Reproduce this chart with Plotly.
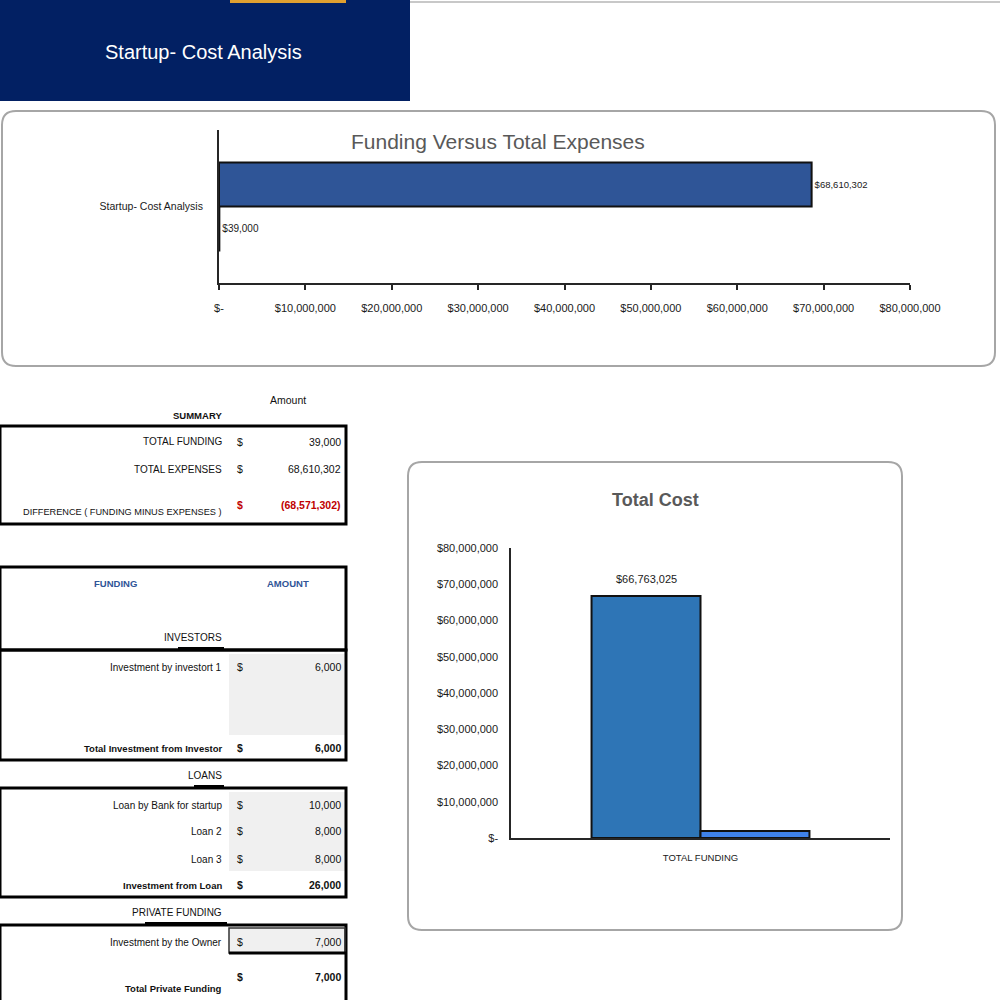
import plotly.graph_objects as go

# ---------------- data ----------------
top_categories = ["Startup- Cost Analysis"]
top_funding = [39000]
top_expenses = [68610302]
top_tick_vals = [0, 10000000, 20000000, 30000000, 40000000, 50000000, 60000000, 70000000, 80000000]
top_tick_text = ["$-", "$10,000,000", "$20,000,000", "$30,000,000", "$40,000,000",
                 "$50,000,000", "$60,000,000", "$70,000,000", "$80,000,000"]

cost_categories = ["TOTAL FUNDING"]
cost_series1 = [66763025]
cost_series2 = [1900000]
cost_tick_vals = top_tick_vals
cost_tick_text = top_tick_text

summary_labels = ["TOTAL FUNDING", "TOTAL EXPENSES", "DIFFERENCE ( FUNDING MINUS EXPENSES )"]
summary_values = ["39,000", "68,610,302", "(68,571,302)"]
investor_labels = ["Investment by investort 1", "Total Investment from Investor"]
investor_values = ["6,000", "6,000"]
loan_labels = ["Loan by Bank for startup", "Loan 2", "Loan 3", "Investment from Loan"]
loan_values = ["10,000", "8,000", "8,000", "26,000"]
private_labels = ["Investment by the Owner", "Total Private Funding"]
private_values = ["7,000", "7,000"]

FONT = "Liberation Sans Narrow, Arial Narrow, Liberation Sans, Arial"
NAVY = "#022063"


def X(p):
    return p / 1000.0


def Y(p):
    return 1 - p / 1000.0


fig = go.Figure()

# ---------------- top chart ----------------
fig.add_trace(go.Bar(
    y=top_categories, x=top_funding, orientation="h", name="Funding",
    marker=dict(color="#2F5597", line=dict(color="#111111", width=2)),
    texttemplate="$%{x:,.0f}", textposition="outside",
    textfont=dict(family=FONT, size=10, color="#1a1a1a"),
    cliponaxis=False, xaxis="x", yaxis="y"))
fig.add_trace(go.Bar(
    y=top_categories, x=top_expenses, orientation="h", name="Expenses",
    marker=dict(color="#2F5597", line=dict(color="#111111", width=2)),
    texttemplate="$%{x:,.0f}", textposition="outside",
    textfont=dict(family=FONT, size=9.5, color="#1a1a1a"),
    cliponaxis=False, xaxis="x", yaxis="y"))

# ---------------- bottom chart ----------------
fig.add_trace(go.Bar(
    x=cost_categories, y=cost_series1, name="Total Cost",
    marker=dict(color="#2E75B6", line=dict(color="#111111", width=2)),
    xaxis="x2", yaxis="y2"))
fig.add_trace(go.Bar(
    x=cost_categories, y=cost_series2, name="Funding",
    marker=dict(color="#3F82EA", line=dict(color="#111111", width=2)),
    xaxis="x2", yaxis="y2"))

shapes = []
ann = []

# data label for the Total Cost bar (placed from the data value)
ann.append(dict(text=f"${cost_series1[0]:,.0f}", x=cost_categories[0], y=cost_series1[0],
                xref="x2", yref="y2", xshift=-54, yshift=17, showarrow=False,
                xanchor="center", yanchor="middle",
                font=dict(family=FONT, size=11, color="#1a1a1a")))

# header banner
shapes.append(dict(type="rect", xref="paper", yref="paper", x0=X(0), x1=X(410), y0=Y(101), y1=Y(0),
                   fillcolor=NAVY, line=dict(width=0), layer="below"))
shapes.append(dict(type="rect", xref="paper", yref="paper", x0=X(230), x1=X(346), y0=Y(3), y1=Y(0),
                   fillcolor="#E0A030", line=dict(width=0)))
shapes.append(dict(type="line", xref="paper", yref="paper", x0=X(410), x1=X(1000), y0=Y(2), y1=Y(2),
                   line=dict(color="#C8C8C8", width=2)))
ann.append(dict(text="Startup- Cost Analysis", x=X(203), y=Y(52), xref="paper", yref="paper",
                showarrow=False, xanchor="center", yanchor="middle",
                font=dict(family=FONT, size=20, color="white")))


def rounded(x0, y0, x1, y1, r):
    a0, b0, a1, b1 = X(x0), Y(y0), X(x1), Y(y1)
    rr = r / 1000.0
    return (f"M {a0+rr},{b0} L {a1-rr},{b0} Q {a1},{b0} {a1},{b0-rr} "
            f"L {a1},{b1+rr} Q {a1},{b1} {a1-rr},{b1} L {a0+rr},{b1} "
            f"Q {a0},{b1} {a0},{b1+rr} L {a0},{b0-rr} Q {a0},{b0} {a0+rr},{b0} Z")


shapes.append(dict(type="path", xref="paper", yref="paper", path=rounded(2, 111, 995, 366, 14),
                   line=dict(color="#A6A6A6", width=2), fillcolor="white", layer="below"))
shapes.append(dict(type="path", xref="paper", yref="paper", path=rounded(408, 462, 902, 930, 14),
                   line=dict(color="#A6A6A6", width=2), fillcolor="white", layer="below"))

ann.append(dict(text="Funding Versus Total Expenses", x=X(498), y=Y(141), xref="paper", yref="paper",
                showarrow=False, xanchor="center", yanchor="middle",
                font=dict(family=FONT, size=21, color="#595959")))
ann.append(dict(text="<b>Total Cost</b>", x=X(655), y=Y(500), xref="paper", yref="paper",
                showarrow=False, xanchor="center", yanchor="middle",
                font=dict(family=FONT, size=18, color="#595959")))

# ---------------- tables ----------------
TXT = "#111111"
LBL_X = 224
DOL_X = 235
VAL_X = 343
LS = 10     # label size
VS = 10.5   # value size


def text(t, x, y, anchor="right", size=LS, color=TXT, bold=False):
    ann.append(dict(text=(f"<b>{t}</b>" if bold else t), x=X(x), y=Y(y), xref="paper", yref="paper",
                    showarrow=False, xanchor=anchor, yanchor="middle",
                    font=dict(family=FONT, size=size, color=color)))


def box(x0, y0, x1, y1, w=3, color="black", fill=None):
    shapes.append(dict(type="rect", xref="paper", yref="paper", x0=X(x0), x1=X(x1), y0=Y(y1), y1=Y(y0),
                       line=dict(color=color, width=w), fillcolor=fill if fill else "rgba(0,0,0,0)"))


def fillrect(x0, y0, x1, y1, color="#F0F0F0"):
    shapes.append(dict(type="rect", xref="paper", yref="paper", x0=X(x0), x1=X(x1), y0=Y(y1), y1=Y(y0),
                       line=dict(width=0), fillcolor=color, layer="below"))


def underline(x0, x1, y):
    shapes.append(dict(type="line", xref="paper", yref="paper", x0=X(x0), x1=X(x1), y0=Y(y), y1=Y(y),
                       line=dict(color="black", width=2)))


# summary
text("Amount", 288, 400, anchor="center", size=10.5)
text("SUMMARY", LBL_X, 415, size=9.5, bold=True)
box(0, 426, 346, 524)
sum_y = [442, 469, 505]
for i, (lab, val) in enumerate(zip(summary_labels, summary_values)):
    red = i == 2
    ly = 512 if red else sum_y[i]
    text(lab, LBL_X, ly, size=9.2 if red else LS)
    text("$", DOL_X, sum_y[i], anchor="left", size=VS, color="#C00000" if red else TXT, bold=red)
    text(val, VAL_X, sum_y[i], size=VS, color="#C00000" if red else TXT, bold=red)

# funding header
box(0, 567, 346, 650)
text("FUNDING", 115, 583, anchor="center", size=9.5, color="#2F5597", bold=True)
text("AMOUNT", 288, 583, anchor="center", size=9.5, color="#2F5597", bold=True)
text("INVESTORS", LBL_X, 637)
underline(178, 224, 648)

# investors
fillrect(229, 654, 345, 735)
box(0, 650, 346, 760)
inv_y = [667, 748]
for i, (lab, val) in enumerate(zip(investor_labels, investor_values)):
    b = i == len(investor_labels) - 1
    text(lab, LBL_X, inv_y[i], size=9.5 if b else LS, bold=b)
    text("$", DOL_X, inv_y[i], anchor="left", size=VS, bold=b)
    text(val, VAL_X, inv_y[i], size=VS, bold=b)

# loans
text("LOANS", LBL_X, 775)
underline(194, 224, 786)
fillrect(229, 792, 345, 871)
box(0, 788, 346, 897)
loan_y = [805, 831, 859, 885]
for i, (lab, val) in enumerate(zip(loan_labels, loan_values)):
    b = i == len(loan_labels) - 1
    text(lab, LBL_X, loan_y[i], size=9.5 if b else LS, bold=b)
    text("$", DOL_X, loan_y[i], anchor="left", size=VS, bold=b)
    text(val, VAL_X, loan_y[i], size=VS, bold=b)

# private funding
text("PRIVATE FUNDING", LBL_X, 912)
underline(145, 227, 923)
box(0, 925, 346, 1004)
fillrect(229, 928, 345, 953)
box(229, 928, 345, 953, w=1.5, color="#333333")
shapes.append(dict(type="line", xref="paper", yref="paper", x0=X(229), x1=X(346), y0=Y(953), y1=Y(953),
                   line=dict(color="black", width=3)))
priv_y = [942, 977]
for i, (lab, val) in enumerate(zip(private_labels, private_values)):
    b = i == len(private_labels) - 1
    ly = 988 if b else priv_y[i]
    text(lab, LBL_X, ly, size=9.5 if b else LS, bold=b)
    text("$", DOL_X, priv_y[i], anchor="left", size=VS, bold=b)
    text(val, VAL_X, priv_y[i], size=VS, bold=b)

axis_font = dict(family=FONT, size=11, color="#1a1a1a")

fig.update_layout(
    template="none",
    width=1000, height=1000,
    margin=dict(l=0, r=0, t=0, b=0, pad=0),
    paper_bgcolor="white", plot_bgcolor="rgba(0,0,0,0)",
    showlegend=False,
    barmode="group",
    bargap=0.425, bargroupgap=0,
    shapes=shapes, annotations=ann,
    xaxis=dict(domain=[X(219), X(910)], anchor="y", range=[0, 80000000], automargin=False,
               tickvals=top_tick_vals, ticktext=top_tick_text,
               showgrid=False, zeroline=False, showline=True, linecolor="#262626", linewidth=2,
               ticks="outside", ticklen=5, tickcolor="#262626", tickwidth=2,
               ticklabelstandoff=9, tickfont=axis_font, fixedrange=True),
    yaxis=dict(domain=[Y(283), Y(130)], anchor="x", automargin=False,
               showgrid=False, zeroline=False, showline=True, linecolor="#262626", linewidth=2,
               ticks="", ticklabelstandoff=12, tickfont=dict(family=FONT, size=10.5, color="#1a1a1a"),
               fixedrange=True),
    xaxis2=dict(domain=[X(511), X(890)], anchor="y2", automargin=False,
                showgrid=False, zeroline=False, showline=True, linecolor="#262626", linewidth=2,
                ticks="", ticklabelstandoff=10, tickfont=dict(family=FONT, size=9.5, color="#1a1a1a"),
                fixedrange=True),
    yaxis2=dict(domain=[Y(838), Y(548)], anchor="x2", range=[0, 80000000], automargin=False,
                tickvals=cost_tick_vals, ticktext=cost_tick_text,
                showgrid=False, zeroline=False, showline=True, linecolor="#262626", linewidth=1.5,
                ticks="", ticklabelstandoff=9, tickfont=dict(family=FONT, size=11, color="#1a1a1a"),
                fixedrange=True),
)

fig.write_html("out.html", config={"displayModeBar": False},
               post_script="document.body.style.margin='0';document.body.style.overflow='hidden';")
